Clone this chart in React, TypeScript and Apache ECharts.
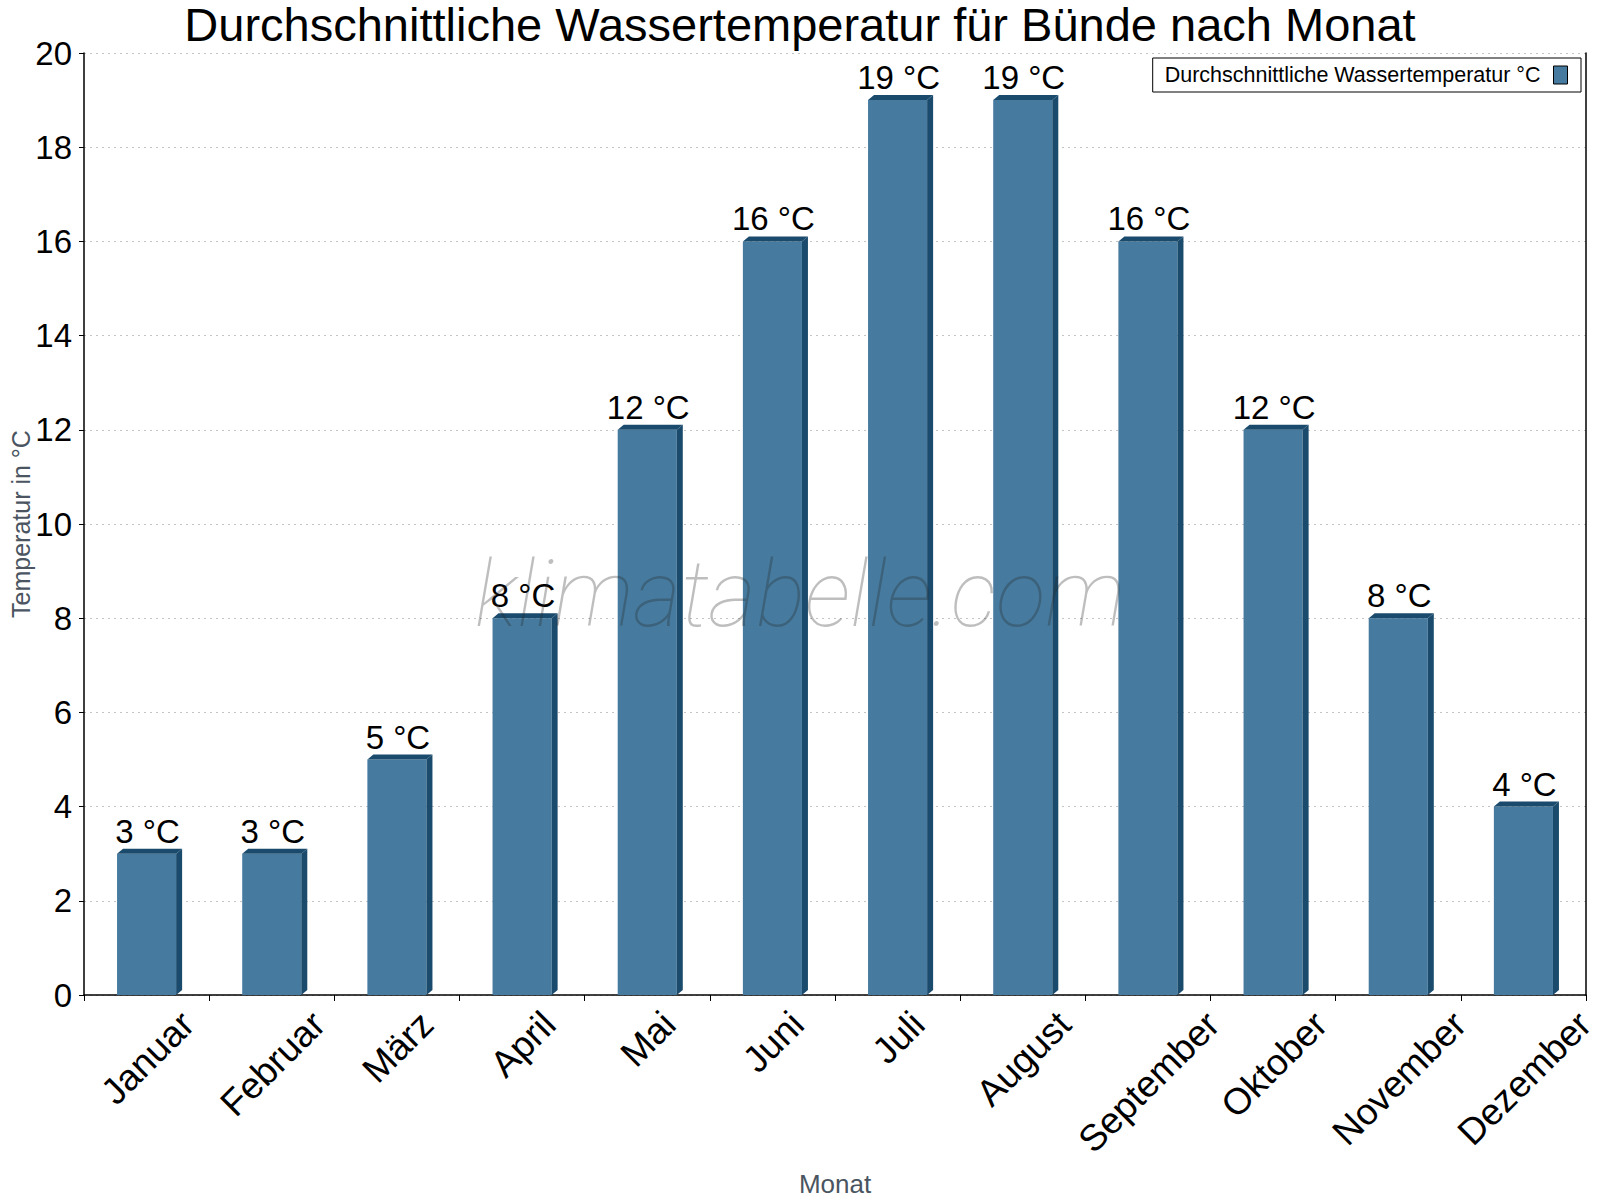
import React, { useEffect, useRef } from "react";
import * as echarts from "echarts";

const TITLE = "Durchschnittliche Wassertemperatur für Bünde nach Monat";
const SERIES_NAME = "Durchschnittliche Wassertemperatur °C";
const MONTHS = ["Januar", "Februar", "März", "April", "Mai", "Juni", "Juli", "August", "September", "Oktober", "November", "Dezember"];
const TEMPS = [3, 3, 5, 8, 12, 16, 19, 19, 16, 12, 8, 4];
const Y_MIN = 0;
const Y_MAX = 20;
const Y_STEP = 2;

const FONT = '"Liberation Sans", Arial, Helvetica, sans-serif';
const FRONT = "#467b9f";
const DARK = "#1b4b6c";
const XLABEL_SIZE = 37;

function measure(text: string, size: number): number {
  const c = document.createElement("canvas").getContext("2d");
  if (!c) return text.length * size * 0.55;
  c.font = `${size}px "Liberation Sans", Arial, sans-serif`;
  return c.measureText(text).width;
}

export default function App() {
  const ref = useRef<HTMLDivElement>(null);
  useEffect(() => {
    if (!ref.current) return;
    const chart = echarts.init(ref.current, null, { renderer: "svg" });
    const widths = MONTHS.map((m) => measure(m, XLABEL_SIZE));
    const option: any = {
      animation: false,
      backgroundColor: "#fff",
      textStyle: { fontFamily: FONT },
      title: {
        text: TITLE,
        left: "center",
        top: 1,
        padding: 0,
        textStyle: { fontSize: 47, lineHeight: 46, fontWeight: "normal", color: "#000", fontFamily: FONT },
      },
      legend: {
        show: true,
        right: 19,
        top: 58,
        align: "right",
        icon: "rect",
        itemWidth: 14,
        itemHeight: 18,
        padding: [6, 13, 6, 12],
        borderColor: "#000",
        borderWidth: 1,
        borderRadius: 0,
        itemStyle: { borderColor: "#000", borderWidth: 1, color: FRONT },
        textStyle: { fontSize: 21.5, color: "#000", fontFamily: FONT, padding: [0, 8, 0, 0] },
        data: [SERIES_NAME],
      },
      grid: { left: 84, right: 14, top: 53, bottom: 205, containLabel: false, outerBoundsMode: "none" },
      xAxis: {
        type: "category",
        data: MONTHS,
        boundaryGap: true,
        name: "Monat",
        nameLocation: "middle",
        nameGap: 176,
        nameMoveOverlap: false,
        nameTextStyle: { fontSize: 26, color: "#4a5561", fontFamily: FONT },
        axisLine: { show: true, lineStyle: { color: "#000", width: 1.5 } },
        axisTick: { show: true, alignWithLabel: false, inside: false, length: 6, lineStyle: { color: "#000" } },
        axisLabel: { show: false, interval: 0 },
        splitLine: { show: false },
      },
      yAxis: [
        {
          type: "value",
          min: Y_MIN,
          max: Y_MAX,
          interval: Y_STEP,
          name: "Temperatur in °C",
          nameLocation: "middle",
          nameRotate: 90,
          nameGap: 51,
          nameMoveOverlap: false,
          nameTextStyle: { fontSize: 25, color: "#4a5561", fontFamily: FONT },
          axisLine: { show: true, lineStyle: { color: "#000", width: 1.5 } },
          axisTick: { show: true, inside: false, length: 5, lineStyle: { color: "#000" } },
          axisLabel: { margin: 12, fontSize: 33, color: "#000", fontFamily: FONT },
          splitLine: { show: true, lineStyle: { color: "#c4c4c4", type: [2, 4], width: 1 } },
        },
        {
          type: "value",
          min: Y_MIN,
          max: Y_MAX,
          interval: Y_STEP,
          position: "right",
          axisLine: { show: true, lineStyle: { color: "#000", width: 1.5 } },
          axisTick: { show: false },
          axisLabel: { show: false },
          splitLine: { show: false },
        },
      ],
      graphic: [
        {
          type: "text",
          x: 800,
          y: 594,
          z: 100,
          silent: true,
          style: {
            text: "klimatabelle.com",
            fontSize: 92,
            fontFamily: "Roboto, sans-serif",
            fontStyle: "italic",
            fontWeight: 100,
            fill: "rgba(40,40,40,0.3)",
            align: "center",
            verticalAlign: "middle",
          },
        },
      ],
      series: [
        {
          name: SERIES_NAME,
          type: "custom",
          itemStyle: { color: FRONT },
          data: TEMPS.map((v, i) => [i, v]),
          encode: { x: 0, y: 1 },
          clip: false,
          renderItem: (params: any, api: any) => {
            const idx = api.value(0);
            const v = api.value(1);
            const top = api.coord([idx, v]);
            const base = api.coord([idx, 0]);
            const catW = api.size([1, 0])[0];
            const bw = catW * 0.472;
            const dx = 6;
            const dy = 5;
            const x0 = top[0] - bw / 2;
            const x1 = top[0] + bw / 2;
            const yT = top[1];
            const yB = base[1];
            const L = widths[idx] || 0;
            return {
              type: "group",
              children: [
                {
                  type: "rect",
                  shape: { x: x0, y: yT, width: bw, height: yB - yT },
                  style: { fill: FRONT },
                },
                {
                  type: "polygon",
                  shape: { points: [[x0, yT], [x0 + dx, yT - dy], [x1 + dx, yT - dy], [x1, yT]] },
                  style: { fill: DARK },
                },
                {
                  type: "polygon",
                  shape: { points: [[x1, yT], [x1 + dx, yT - dy], [x1 + dx, yB - dy], [x1, yB]] },
                  style: { fill: DARK },
                },
                {
                  type: "text",
                  x: top[0] + 1,
                  y: yT - 6,
                  style: {
                    text: `${v} °C`,
                    fontSize: 33,
                    fontFamily: FONT,
                    fill: "#000",
                    align: "center",
                    verticalAlign: "bottom",
                  },
                },
                {
                  type: "text",
                  x: base[0] + 1,
                  y: yB + 23 + 0.354 * L,
                  rotation: Math.PI / 4,
                  style: {
                    text: MONTHS[idx],
                    fontSize: XLABEL_SIZE,
                    fontFamily: FONT,
                    fill: "#000",
                    align: "center",
                    verticalAlign: "middle",
                  },
                },
              ],
            };
          },
        },
      ],
    };
    chart.setOption(option);
    return () => chart.dispose();
  }, []);
  return (
    <div
      ref={ref}
      style={{ position: "absolute", left: 0, top: 0, width: 1600, height: 1200, background: "#fff" }}
    />
  );
}
